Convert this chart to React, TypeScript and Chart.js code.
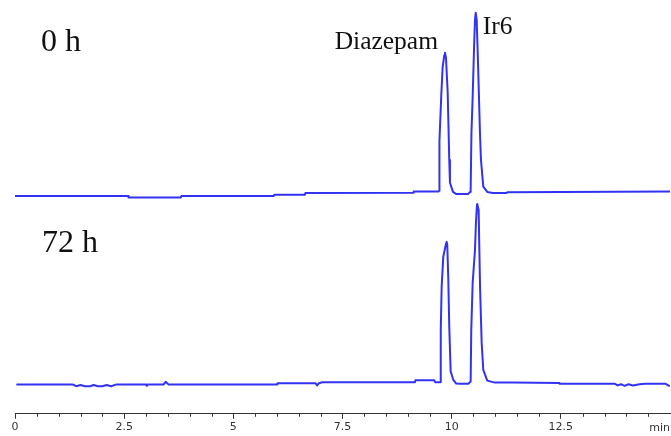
import { useEffect, useRef } from "react";
import { Chart, registerables } from "chart.js";

Chart.register(...registerables);

// Chromatogram of the sample right after preparation (0 h): time (min) / signal (mAU)
const TIME_0H = [
  0.0, 2.59, 2.6, 3.8, 3.81, 5.93, 5.94, 6.64, 6.65, 9.12, 9.13, 9.7,
  9.716, 9.72, 9.762, 9.794, 9.831, 9.847, 9.87, 9.909, 9.945, 9.961, 10.03,
  10.1, 10.38, 10.42, 10.435, 10.453, 10.481, 10.511, 10.534, 10.55, 10.573,
  10.595, 10.625, 10.648, 10.671, 10.724, 10.815, 10.946, 11.26, 11.27, 15.0,
];
const SIGNAL_0H = [
  -1.0, -1.0, -1.4, -1.4, -1.0, -1.0, -0.7, -0.7, -0.3, -0.2, 0.1, 0.1,
  0.3, 12.6, 24.2, 31.3, 34.2, 34.8, 33.5, 24.8, 8.0, 2.3, 0.0,
  -0.5, -0.5, 0.0, 0.5, 14.8, 23.8, 35.5, 43.0, 44.8, 43.0,
  35.5, 23.8, 14.8, 8.0, 1.3, 0.0, -0.25, -0.25, -0.1, 0.1,
];

// Same sample after 72 h
const TIME_72H = [
  0.05, 1.33, 1.4, 1.5, 1.6, 1.72, 1.8, 1.9, 2.0, 2.1, 2.2, 2.31,
  3.0, 3.02, 3.04, 3.4, 3.45, 3.52, 6.0, 6.01, 6.88, 6.92, 6.96, 7.04,
  9.16, 9.17, 9.6, 9.62, 9.74, 9.748, 9.752, 9.771, 9.808, 9.863, 9.886,
  9.899, 9.922, 9.945, 9.977, 10.037, 10.1, 10.19, 10.38, 10.43, 10.435,
  10.449, 10.481, 10.534, 10.556, 10.579, 10.586, 10.618, 10.63, 10.65,
  10.687, 10.724, 10.815, 10.99, 11.4, 12.46, 12.47, 13.74, 13.8, 13.88,
  13.96, 14.05, 14.15, 14.3, 14.43, 14.9, 14.98,
];
const SIGNAL_72H = [
  -0.7, -0.7, -1.1, -0.8, -1.1, -1.1, -0.8, -1.1, -1.1, -0.8, -1.1, -0.7,
  -0.7, -1.0, -0.7, -0.7, 0.0, -0.7, -0.7, -0.35, -0.35, -0.9, -0.35, -0.1,
  -0.1, 0.4, 0.4, -0.1, -0.1, 0.2, 13.0, 23.8, 31.3, 34.2, 35.0,
  34.2, 26.0, 13.8, 2.6, 0.5, -0.4, -0.5, -0.5, 0.0, 0.3,
  13.0, 24.8, 33.0, 39.8, 44.2, 44.5, 43.0, 35.5, 23.8,
  9.8, 3.0, 0.3, -0.2, -0.2, -0.3, -0.5, -0.5, -0.9, -0.6,
  -1.0, -0.6, -0.9, -0.6, -0.5, -0.5, -1.0,
];

const TICK_VALUES = [0, 2.5, 5, 7.5, 10, 12.5];
const MINOR_STEP = 0.5;
const X_MAX = 15;
const UPPER_OFFSET = 47.5; // vertical shift of the 0 h trace

const PEAK_NAMES = ["Diazepam", "Ir6"];
const PEAK_WINDOWS = [
  [9.5, 10.2],
  [10.3, 10.9],
];

const LINE_COLOR = "rgb(50, 50, 242)";
const AXIS_COLOR = "#333333";

function toPoints(times: number[], values: number[], offset: number) {
  return times.map((t, i) => ({ x: t, y: values[i] + offset }));
}

function peakApex(times: number[], values: number[], lo: number, hi: number) {
  let best = { x: lo, y: -Infinity };
  times.forEach((t, i) => {
    if (t >= lo && t <= hi && values[i] > best.y) best = { x: t, y: values[i] };
  });
  return best;
}

const annotations = {
  id: "chromAnnotations",
  afterDraw(chart: any) {
    const { ctx, chartArea } = chart;
    const x = chart.scales.x;
    const y = chart.scales.y;
    ctx.save();

    // minor tick marks on the time axis
    ctx.strokeStyle = AXIS_COLOR;
    ctx.lineWidth = 1;
    for (let v = MINOR_STEP; v < X_MAX - 1e-6; v += MINOR_STEP) {
      if (TICK_VALUES.some((t) => Math.abs(t - v) < 1e-6)) continue;
      const px = Math.round(x.getPixelForValue(v)) + 0.5;
      ctx.beginPath();
      ctx.moveTo(px, chartArea.bottom);
      ctx.lineTo(px, chartArea.bottom + 3);
      ctx.stroke();
    }

    // unit at the end of the axis
    ctx.fillStyle = AXIS_COLOR;
    ctx.font = '11px "DejaVu Sans"';
    ctx.textAlign = "right";
    ctx.textBaseline = "middle";
    ctx.fillText("min", x.right, chartArea.bottom + 14);

    // sampling times
    ctx.fillStyle = "#111111";
    ctx.font = '32px "Liberation Serif"';
    ctx.textAlign = "left";
    ctx.textBaseline = "alphabetic";
    ctx.fillText("0 h", chartArea.left + 26, y.getPixelForValue(UPPER_OFFSET) - 141);
    ctx.fillText("72 h", chartArea.left + 27, y.getPixelForValue(0) - 130);

    // peak names over the 0 h trace
    ctx.font = '25.5px "Liberation Serif"';
    const dz = peakApex(TIME_0H, SIGNAL_0H, PEAK_WINDOWS[0][0], PEAK_WINDOWS[0][1]);
    const ir = peakApex(TIME_0H, SIGNAL_0H, PEAK_WINDOWS[1][0], PEAK_WINDOWS[1][1]);
    ctx.textAlign = "right";
    ctx.fillText(
      PEAK_NAMES[0],
      x.getPixelForValue(dz.x) - 7,
      y.getPixelForValue(dz.y + UPPER_OFFSET) - 4
    );
    ctx.textAlign = "left";
    ctx.fillText(
      PEAK_NAMES[1],
      x.getPixelForValue(ir.x) + 7,
      y.getPixelForValue(ir.y + UPPER_OFFSET) + 21
    );
    ctx.restore();
  },
};

export default function App() {
  const canvasRef = useRef<HTMLCanvasElement | null>(null);

  useEffect(() => {
    if (!canvasRef.current) return;
    const traceStyle = {
      borderColor: LINE_COLOR,
      borderWidth: 2,
      borderJoinStyle: "round" as const,
      borderCapStyle: "round" as const,
      pointRadius: 0,
      tension: 0,
      fill: false,
    };
    const chart = new Chart(canvasRef.current, {
      type: "line",
      data: {
        datasets: [
          { label: "0 h", data: toPoints(TIME_0H, SIGNAL_0H, UPPER_OFFSET), ...traceStyle },
          { label: "72 h", data: toPoints(TIME_72H, SIGNAL_72H, 0), ...traceStyle },
        ],
      },
      options: {
        animation: false,
        responsive: false,
        maintainAspectRatio: false,
        events: [],
        layout: { padding: { left: 15, right: 1, top: 0, bottom: 0 } },
        plugins: {
          legend: { display: false },
          tooltip: { enabled: false },
          title: { display: false },
        },
        scales: {
          x: {
            type: "linear",
            min: 0,
            max: X_MAX,
            afterBuildTicks: (scale: any) => {
              scale.ticks = TICK_VALUES.map((v) => ({ value: v }));
            },
            border: { display: true, color: AXIS_COLOR, width: 1 },
            grid: {
              display: true,
              drawOnChartArea: false,
              drawTicks: true,
              tickLength: 5,
              color: AXIS_COLOR,
            },
            ticks: {
              padding: 2,
              color: AXIS_COLOR,
              font: { family: "DejaVu Sans", size: 11 },
              maxRotation: 0,
              autoSkip: false,
              callback: (v: any) => String(v),
            },
          },
          y: {
            display: false,
            min: -8,
            max: 95.5,
          },
        },
      },
      plugins: [annotations],
    });
    return () => chart.destroy();
  }, []);

  return (
    <div style={{ position: "absolute", left: 0, top: 0, width: 671, height: 436, background: "#ffffff" }}>
      <canvas ref={canvasRef} width={671} height={436} />
    </div>
  );
}
